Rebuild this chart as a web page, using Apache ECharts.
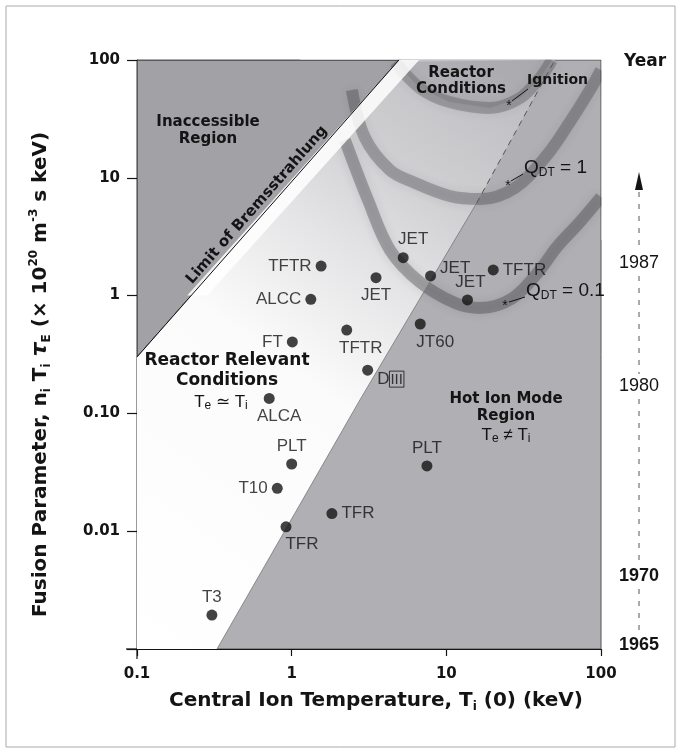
<!DOCTYPE html>
<html><head><meta charset="utf-8">
<script src="https://cdn.jsdelivr.net/npm/echarts@6/dist/echarts.min.js"></script>
<style>html,body{margin:0;padding:0;background:#fff}#c{width:681px;height:753px}</style>
</head><body><div id="c"></div>
<script>
// ---------- data ----------
const pointNames = ['T3','TFR','TFR','T10','PLT','PLT','ALCA','DIII','FT','TFTR','JT60','ALCC','TFTR','JET','JET','JET','JET','TFTR'];
const pointTi    = [0.305,0.919,1.82,0.807,1.0,7.49,0.716,3.1,1.01,2.27,6.78,1.33,1.55,3.51,5.26,7.91,13.7,20.1];
const pointNTt   = [0.00194,0.0109,0.0141,0.0231,0.0372,0.0358,0.134,0.233,0.404,0.51,0.574,0.93,1.78,1.42,2.10,1.47,0.918,1.65];

const xTickLabels = ['0.1','1','10','100'];          // exponents -1..2
const yTickLabels = ['','0.01','0.10','1','10','100']; // exponents -3..2

const yearLabels = ['1965','1970','1980','1987'];
const yearAtNTt  = [0.00108,0.00417,0.171,1.89];

const bremsTi  = [0.1, 4.94];
const bremsNTt = [0.301, 100];
const hotTi    = [0.329, 2.76, 15.7];
const hotNTt   = [0.001, 0.13, 6.1];
const hotDashTi  = [15.7, 50.3];
const hotDashNTt = [6.1, 100];

const q01Ti  = [2.21,3.11,4.32,6.75,11.4,16.5,26.9,40.3,51.9,73.1,100];
const q01NTt = [20.9,6.5,2.44,1.30,0.865,0.785,0.955,1.65,2.59,4.22,6.87];
const q1Ti   = [2.45,2.98,4.32,6.08,10.5,16.5,27.7,44.7,62.9,84.8,100];
const q1NTt  = [55.6,21.8,11.6,9.2,7.0,6.6,8.2,15.6,29.8,55.6,82];
const ignTi  = [4.65,6.75,10.5,19.1,29.9,40.3,48.2];
const ignNTt = [96,57.8,44.0,39.2,47.5,70.3,100];

// ---------- styles ----------
const FB = 'DejaVu Sans';
const FR = 'Liberation Sans';
const INK = '#141414';
const labelPlace  = ['top','bottom','right','left','top','top','bottom','right','left','bottom','bottom','left','left','bottom','top','right','top','right'];
const labelOffset = [[0,0],[16,0],[0,0],[0,0],[0,0],[0,0],[10,0],[0,9],[0,0],[14,0],[15,0],[0,0],[0,0],[0,0],[10,0],[0,-8],[3,0],[0,0]];

const zip = (a,b) => a.map((v,i)=>[v,b[i]]);

const inaccessible = [[bremsTi[0],bremsNTt[0]],[bremsTi[1],bremsNTt[1]],[0.1,100]];
const relevant = [[0.1,0.001]].concat(zip(hotTi,hotNTt), [zip(hotDashTi,hotDashNTt)[1]], [[bremsTi[1],bremsNTt[1]],[bremsTi[0],bremsNTt[0]]]);
const strip = [[bremsTi[1],100],[bremsTi[1]*1.35,100],[0.285,1.0],[0.211,1.0]];
const reactorArea = zip(ignTi, ignNTt);

function polySeries(points, style, z){
  return {type:'custom', coordinateSystem:'cartesian2d', silent:true, clip:true, z:z,
    data:[[1,1]],
    renderItem:(params, api)=>({type:'polygon', shape:{points: points.map(p=>api.coord(p))}, style: style})};
}
function band(ti, ntt, width, color, blur, z){
  return {type:'line', data: zip(ti,ntt), smooth:0.35, symbol:'none', silent:true, z:z, clip:true,
    lineStyle:{width:width, color:color, shadowBlur:blur, shadowColor:color, cap:'butt'}};
}

const chart = echarts.init(document.getElementById('c'), null, {renderer:'canvas'});
const option = {
  animation:false,
  backgroundColor:'#ffffff',
  grid:{left:137, right:80, top:60, bottom:104, show:true, backgroundColor:'#afafb4', borderColor:'#555', borderWidth:1},
  xAxis:{type:'log', logBase:10, min:0.1, max:100,
    axisLine:{show:true, onZero:false, lineStyle:{color:INK, width:1.2}},
    axisTick:{show:true, length:7, lineStyle:{color:INK, width:1.2}},
    minorTick:{show:false}, splitLine:{show:false},
    axisLabel:{margin:18, fontFamily:FB, fontWeight:'bold', fontSize:15, color:INK,
      formatter:v=>xTickLabels[Math.round(Math.log10(v))+1] || ''},
    name:'Central Ion Temperature, T{s|i} (0) (keV)', nameLocation:'middle', nameGap:39,
    nameTextStyle:{fontFamily:FB, fontWeight:'bold', fontSize:20, color:INK, lineHeight:25, padding:[0,0,0,14],
      rich:{s:{fontFamily:FB, fontWeight:'bold', fontSize:12, lineHeight:12, verticalAlign:'bottom', color:INK}}}
  },
  yAxis:[{type:'log', logBase:10, min:0.001, max:100,
    axisLine:{show:true, onZero:false, lineStyle:{color:INK, width:1.2}},
    axisTick:{show:true, length:10, lineStyle:{color:INK, width:1.2}},
    minorTick:{show:false}, splitLine:{show:false},
    axisLabel:{margin:17, fontFamily:FB, fontWeight:'bold', fontSize:15, color:INK,
      formatter:v=>yTickLabels[Math.round(Math.log10(v))+3] || ''},
    name:'Fusion Parameter, n{s|i} T{s|i} {t|τ}{s|E} (× 10{u|20} m{u|-3} s keV)', nameLocation:'middle', nameGap:84, nameRotate:90,
    nameTextStyle:{fontFamily:FB, fontWeight:'bold', fontSize:20, color:INK, lineHeight:25, padding:[0,40,0,0],
      rich:{s:{fontFamily:FB, fontWeight:'bold', fontSize:12, lineHeight:12, verticalAlign:'bottom', color:INK},
            u:{fontFamily:FB, fontWeight:'bold', fontSize:12, lineHeight:12, verticalAlign:'top', color:INK},
            t:{fontFamily:FB, fontWeight:'bold', fontStyle:'italic', fontSize:22, color:INK}}}
  },{type:'value', min:-3, max:2, position:'right', offset:38,
    axisLine:{show:false}, axisTick:{show:false}, splitLine:{show:false},
    axisLabel:{customValues: yearAtNTt.map(Math.log10), margin:0, align:'center', fontFamily:FR, fontSize:18, color:INK,
      formatter:v=>{
        for(let i=0;i<yearLabels.length;i++){ if(Math.abs(Math.log10(yearAtNTt[i])-v)<1e-6) return (i<2?'{b|':'{r|')+yearLabels[i]+'}'; }
        return '';
      },
      rich:{b:{fontFamily:FR, fontWeight:'bold', fontSize:18, color:INK}, r:{fontFamily:FR, fontSize:18, color:INK}}}
  }],
  series:[
    polySeries(inaccessible, {fill:'#a1a1a6', stroke:INK, lineWidth:1}, 1),
    polySeries(relevant, {fill: new echarts.graphic.LinearGradient(0,1,1,0,[
      {offset:0, color:'#ffffff'},{offset:0.44, color:'#fbfbfb'},{offset:0.62, color:'#e4e4e6'},
      {offset:0.76, color:'#cfcfd2'},{offset:1, color:'#b9b9bd'}])}, 1),
    polySeries(reactorArea, {fill:'rgba(80,80,85,0.16)'}, 2),
    band(q01Ti, q01NTt, 12, 'rgba(50,50,55,0.34)', 10, 3),
    band(q1Ti, q1NTt, 12, 'rgba(50,50,55,0.31)', 10, 3),
    band(ignTi, ignNTt, 12, 'rgba(50,50,55,0.28)', 10, 3),
    polySeries(strip, {fill:'rgba(255,255,255,0.85)'}, 4),
    {type:'line', data:zip(bremsTi,bremsNTt), symbol:'none', silent:true, z:5, lineStyle:{color:INK, width:1}},
    {type:'line', data:zip(hotTi,hotNTt), symbol:'none', silent:true, z:5, lineStyle:{color:'#777', width:0.8}},
    {type:'line', data:zip(hotDashTi,hotDashNTt), symbol:'none', silent:true, z:5, lineStyle:{color:'#555', width:1, type:[6,5]}},
    {type:'scatter', z:10, symbol:'circle', symbolSize:11, itemStyle:{color:INK},
      data: pointNames.map((n,i)=>({name:n, value:[pointTi[i], pointNTt[i]],
        label:{position:labelPlace[i], offset:labelOffset[i]}})),
      label:{show:true, distance:4, fontFamily:FR, fontSize:17, color:INK,
        formatter:p=> p.name==='DIII' ? 'D{box|III}' : p.name,
        rich:{box:{fontFamily:FR, fontSize:15, color:INK, borderColor:INK, borderWidth:1, padding:[1,1,0,1]}}}
    }
  ],
  graphic:[
    // white masks just outside the plot frame (thick bands are clipped with a margin)
    {type:'rect', silent:true, z:50, shape:{x:300,y:40,width:330,height:19.4}, style:{fill:'#fff'}},
    {type:'rect', silent:true, z:50, shape:{x:601.6,y:40,width:14,height:200}, style:{fill:'#fff'}},
    {type:'rect', silent:true, shape:{x:6,y:6,width:669,height:741}, style:{fill:'none', stroke:'#aaa', lineWidth:1}},
    {type:'line', silent:true, shape:{x1:126,y1:649,x2:137,y2:649}, style:{stroke:INK, lineWidth:1.2}},
    {type:'line', silent:true, shape:{x1:137,y1:649,x2:137,y2:659}, style:{stroke:INK, lineWidth:1.2}},
    // annotations
    {type:'text', silent:true, z:20, style:{x:208, y:131, text:'Inaccessible\nRegion', font:'bold 15px "DejaVu Sans"', fill:INK, align:'center', verticalAlign:'middle', lineHeight:17}},
    {type:'text', silent:true, z:20, x:257, y:205, rotation:0.848, style:{x:0, y:0, text:'Limit of Bremsstrahlung', font:'bold 15px "DejaVu Sans"', fill:INK, align:'center', verticalAlign:'middle'}},
    {type:'text', silent:true, z:20, style:{x:461, y:81, text:'Reactor\nConditions', font:'bold 15px "DejaVu Sans"', fill:INK, align:'center', verticalAlign:'middle', lineHeight:16}},
    {type:'text', silent:true, z:20, style:{x:527, y:80, text:'Ignition', font:'bold 14px "DejaVu Sans"', fill:INK, align:'left', verticalAlign:'middle'}},
    {type:'line', silent:true, z:20, shape:{x1:528,y1:89,x2:512,y2:101}, style:{stroke:INK, lineWidth:1}},
    {type:'text', silent:true, z:20, style:{x:509, y:106, text:'*', font:'14px "Liberation Sans"', fill:INK, align:'center', verticalAlign:'middle'}},
    {type:'text', silent:true, z:20, style:{x:524, y:168, text:'Q{s|DT} = 1', font:'19px "Liberation Sans"', fill:INK, align:'left', verticalAlign:'middle', lineHeight:22, rich:{s:{font:'12px "Liberation Sans"', fill:INK, lineHeight:12, verticalAlign:'bottom'}}}},
    {type:'line', silent:true, z:20, shape:{x1:523,y1:174,x2:511,y2:181}, style:{stroke:INK, lineWidth:1}},
    {type:'text', silent:true, z:20, style:{x:508, y:186, text:'*', font:'14px "Liberation Sans"', fill:INK, align:'center', verticalAlign:'middle'}},
    {type:'text', silent:true, z:20, style:{x:526, y:291, text:'Q{s|DT} = 0.1', font:'19px "Liberation Sans"', fill:INK, align:'left', verticalAlign:'middle', lineHeight:22, rich:{s:{font:'12px "Liberation Sans"', fill:INK, lineHeight:12, verticalAlign:'bottom'}}}},
    {type:'line', silent:true, z:20, shape:{x1:525,y1:297,x2:509,y2:302}, style:{stroke:INK, lineWidth:1}},
    {type:'text', silent:true, z:20, style:{x:505, y:306, text:'*', font:'14px "Liberation Sans"', fill:INK, align:'center', verticalAlign:'middle'}},
    {type:'text', silent:true, z:20, style:{x:227, y:371, text:'Reactor Relevant\nConditions', font:'bold 17px "DejaVu Sans"', fill:INK, align:'center', verticalAlign:'middle', lineHeight:20}},
    {type:'text', silent:true, z:20, style:{x:221, y:402, text:'T{s|e} ≃ T{s|i}', font:'17px "Liberation Sans"', fill:INK, align:'center', verticalAlign:'middle', lineHeight:20, rich:{s:{font:'12px "Liberation Sans"', fill:INK, lineHeight:11, verticalAlign:'bottom'}}}},
    {type:'text', silent:true, z:20, style:{x:506, y:408, text:'Hot Ion Mode\nRegion', font:'bold 15px "DejaVu Sans"', fill:INK, align:'center', verticalAlign:'middle', lineHeight:17}},
    {type:'text', silent:true, z:20, style:{x:506, y:435, text:'T{s|e} ≠ T{s|i}', font:'17px "Liberation Sans"', fill:INK, align:'center', verticalAlign:'middle', lineHeight:20, rich:{s:{font:'12px "Liberation Sans"', fill:INK, lineHeight:11, verticalAlign:'bottom'}}}},
    // year axis
    {type:'text', silent:true, z:60, style:{x:645, y:62, text:'Year', font:'bold 17px "DejaVu Sans"', fill:INK, align:'center', verticalAlign:'middle'}},
    {type:'polygon', silent:true, shape:{points:[[639,172],[635,190],[643,190]]}, style:{fill:INK}},
    {type:'line', silent:true, shape:{x1:639,y1:192,x2:639,y2:251}, style:{stroke:'#555', lineWidth:1, lineDash:[5,7]}},
    {type:'line', silent:true, shape:{x1:639,y1:276,x2:639,y2:374}, style:{stroke:'#555', lineWidth:1, lineDash:[5,7]}},
    {type:'line', silent:true, shape:{x1:639,y1:399,x2:639,y2:564}, style:{stroke:'#555', lineWidth:1, lineDash:[5,7]}},
    {type:'line', silent:true, shape:{x1:639,y1:589,x2:639,y2:633}, style:{stroke:'#555', lineWidth:1, lineDash:[5,7]}}
  ]
};
chart.setOption(option);
</script>
</body></html>
